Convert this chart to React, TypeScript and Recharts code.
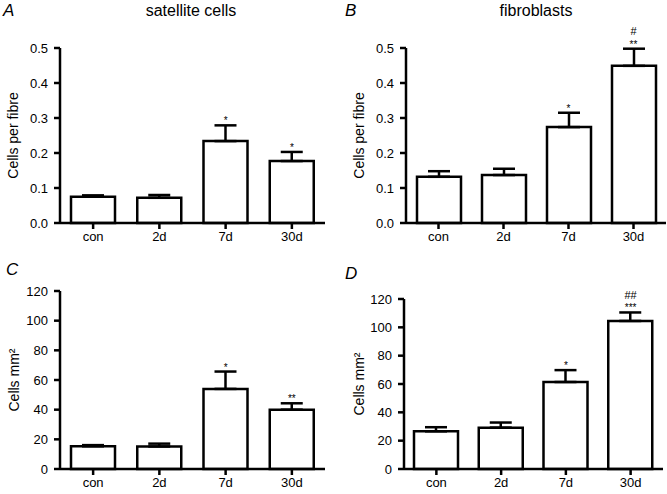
import { ComposedChart, Bar, ErrorBar, Scatter, XAxis, YAxis } from 'recharts';

const groups = ['con', '2d', '7d', '30d'];

// A: satellite cells per fibre
const satMean = [0.075, 0.072, 0.234, 0.177];
const satSem = [0.004, 0.008, 0.045, 0.026];
const satSig = ['', '', '*', '*'];
const satHash = ['', '', '', ''];

// B: fibroblasts per fibre
const fibMean = [0.132, 0.137, 0.274, 0.449];
const fibSem = [0.016, 0.018, 0.041, 0.049];
const fibSig = ['', '', '*', '**'];
const fibHash = ['', '', '', '#'];

// C: satellite cells per mm2
const satAreaMean = [15.3, 15.2, 54, 40];
const satAreaSem = [0.8, 1.9, 11.7, 4.3];
const satAreaSig = ['', '', '*', '**'];
const satAreaHash = ['', '', '', ''];

// D: fibroblasts per mm2
const fibAreaMean = [26.6, 29.2, 61.4, 104.5];
const fibAreaSem = [2.9, 3.6, 8.4, 6];
const fibAreaSig = ['', '', '*', '***'];
const fibAreaHash = ['', '', '', '##'];

const fibreTicks = [0, 0.1, 0.2, 0.3, 0.4, 0.5];
const areaTicks = [0, 20, 40, 60, 80, 100, 120];

const font = '"Liberation Sans", Arial, Helvetica, sans-serif';
const black = '#000';

const rows = (mean: number[], sem: number[], sig: string[], hash: string[]) =>
  groups.map((g, i) => ({
    name: g,
    mean: mean[i],
    err: [0, sem[i]],
    top: mean[i] + sem[i],
    sig: sig[i],
    hash: hash[i],
  }));

const Marks = (props: any) => {
  const { cx, cy, payload } = props;
  if (cx == null || cy == null) return <g />;
  return (
    <g>
      {payload.sig ? (
        <text x={cx} y={cy - 1} textAnchor="middle" fontSize={10} fontFamily={font} fill={black} stroke="none">
          {payload.sig}
        </text>
      ) : null}
      {payload.hash ? (
        <text x={cx} y={cy - 13.5} textAnchor="middle" fontSize={11} fontFamily={font} fill={black} stroke="none">
          {payload.hash}
        </text>
      ) : null}
    </g>
  );
};

type PanelProps = {
  data: any[];
  left: number;
  top: number;
  width: number;
  height: number;
  margin: { top: number; right: number; bottom: number; left: number };
  yWidth: number;
  xHeight: number;
  domain: [number, number];
  ticks: number[];
  fmt: (v: number) => string;
  label: string;
  labelOffset: number;
};

const Panel = (p: PanelProps) => {
  const axisStyle = { stroke: black, strokeWidth: 2.5 };
  return (
    <div style={{ position: 'absolute', left: p.left, top: p.top }}>
      <ComposedChart width={p.width} height={p.height} data={p.data} margin={p.margin}>
        <XAxis
          dataKey="name"
          height={p.xHeight}
          axisLine={axisStyle}
          tickLine={axisStyle}
          tickSize={6}
          tickMargin={3}
          tick={{ fill: black, fontSize: 13, fontFamily: font }}
        />
        <YAxis
          width={p.yWidth}
          domain={p.domain}
          ticks={p.ticks}
          interval={0}
          tickFormatter={p.fmt}
          axisLine={axisStyle}
          tickLine={axisStyle}
          tickSize={6}
          tickMargin={6}
          tick={{ fill: black, fontSize: 13, fontFamily: font }}
          label={{
            value: p.label,
            angle: -90,
            position: 'insideLeft',
            offset: p.labelOffset,
            style: { textAnchor: 'middle', fontSize: 14, fontFamily: font, fill: black, stroke: 'none' },
          }}
        />
        <Bar dataKey="mean" fill="#fff" stroke={black} strokeWidth={2.5} barSize={44} isAnimationActive={false}>
          <ErrorBar dataKey="err" direction="y" width={11} stroke={black} strokeWidth={2.5} />
        </Bar>
        <Scatter dataKey="top" shape={Marks} isAnimationActive={false} />
      </ComposedChart>
    </div>
  );
};

export default function App() {
  const fmt1 = (v: number) => v.toFixed(1);
  const fmt0 = (v: number) => String(v);
  return (
    <div
      style={{
        position: 'absolute',
        left: 0,
        top: 0,
        width: 667,
        height: 494,
        background: '#fff',
        fontFamily: font,
      }}
    >
      <svg width={667} height={494} style={{ position: 'absolute', left: 0, top: 0 }}>
        <text x={3} y={16} fontSize={17} fontStyle="italic" fontFamily={font} fill={black}>A</text>
        <text x={191} y={16} fontSize={16} textAnchor="middle" fontFamily={font} fill={black}>satellite cells</text>
        <text x={345} y={16} fontSize={17} fontStyle="italic" fontFamily={font} fill={black}>B</text>
        <text x={536} y={16} fontSize={16} textAnchor="middle" fontFamily={font} fill={black}>fibroblasts</text>
        <text x={6} y={275} fontSize={17} fontStyle="italic" fontFamily={font} fill={black}>C</text>
        <text x={345} y={279} fontSize={17} fontStyle="italic" fontFamily={font} fill={black}>D</text>
      </svg>
      <Panel
        data={rows(satMean, satSem, satSig, satHash)}
        left={0}
        top={0}
        width={333}
        height={247}
        margin={{ top: 48, right: 8, bottom: 0, left: 0 }}
        yWidth={60}
        xHeight={24}
        domain={[0, 0.5]}
        ticks={fibreTicks}
        fmt={fmt1}
        label="Cells per fibre"
        labelOffset={13}
      />
      <Panel
        data={rows(fibMean, fibSem, fibSig, fibHash)}
        left={333}
        top={0}
        width={334}
        height={247}
        margin={{ top: 48, right: 1, bottom: 0, left: 0 }}
        yWidth={73}
        xHeight={24}
        domain={[0, 0.5]}
        ticks={fibreTicks}
        fmt={fmt1}
        label="Cells per fibre"
        labelOffset={26}
      />
      <Panel
        data={rows(satAreaMean, satAreaSem, satAreaSig, satAreaHash)}
        left={0}
        top={247}
        width={333}
        height={247}
        margin={{ top: 44, right: 8, bottom: 0, left: 0 }}
        yWidth={60}
        xHeight={25}
        domain={[0, 120]}
        ticks={areaTicks}
        fmt={fmt0}
        label="Cells mm²"
        labelOffset={14}
      />
      <Panel
        data={rows(fibAreaMean, fibAreaSem, fibAreaSig, fibAreaHash)}
        left={333}
        top={247}
        width={334}
        height={247}
        margin={{ top: 52, right: 4, bottom: 0, left: 0 }}
        yWidth={71}
        xHeight={25}
        domain={[0, 120]}
        ticks={areaTicks}
        fmt={fmt0}
        label="Cells mm²"
        labelOffset={26}
      />
    </div>
  );
}
